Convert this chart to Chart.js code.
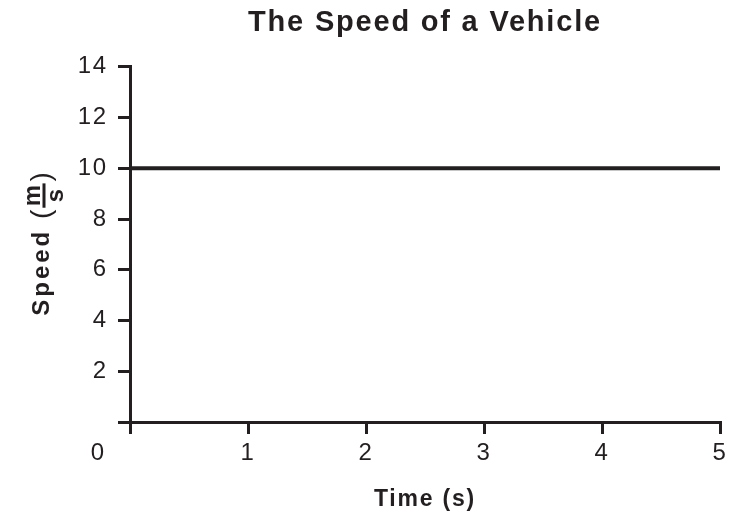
<!DOCTYPE html>
<html>
<head>
<meta charset="utf-8">
<title>The Speed of a Vehicle</title>
<script src="https://cdn.jsdelivr.net/npm/chart.js@4/dist/chart.umd.min.js"></script>
<style>
  html, body { margin: 0; padding: 0; background: #fff; }
  #wrap { width: 740px; height: 516px; }
</style>
</head>
<body>
<div id="wrap"><canvas id="speedChart"></canvas></div>
<script>
// data
const timeSeconds = [0, 1, 2, 3, 4, 5];
const speedValues = [10, 10, 10, 10, 10, 10];
const timeTicks = [0, 1, 2, 3, 4, 5];
const speedTicks = [0, 2, 4, 6, 8, 10, 12, 14];
const originLabel = '0';

const ink = '#231f20';
const family = '"Liberation Sans", Arial, Helvetica, sans-serif';

// stretch the text a little like the printed figure
const spacing = {
    id: 'spacing',
    beforeDraw(chart) { chart.ctx.letterSpacing = '1.8px'; }
};

// y title with the m/s fraction, and the shared "0" at the corner
const axisExtras = {
    id: 'axisExtras',
    afterDraw(chart) {
        const { ctx, chartArea, scales } = chart;
        ctx.save();
        ctx.fillStyle = ink;
        ctx.letterSpacing = '2px';

        // shared origin label
        ctx.font = '24px ' + family;
        ctx.textAlign = 'right';
        ctx.textBaseline = 'alphabetic';
        ctx.fillText(originLabel, chartArea.left - 24, scales.x.bottom - 56);

        const mainFont = 'bold 24px ' + family;
        const parenFont = '28px ' + family;
        const fracFont = 'bold 24px ' + family;

        ctx.letterSpacing = '3px';
        ctx.font = mainFont;
        const wMain = ctx.measureText('Speed ').width;
        ctx.letterSpacing = '0px';
        ctx.font = parenFont;
        const wOpen = ctx.measureText('(').width + 1;
        const wClose = ctx.measureText(')').width;
        ctx.font = fracFont;
        const wFrac = Math.max(ctx.measureText('m').width, ctx.measureText('s').width) + 5;
        const total = wMain + wOpen + wFrac + wClose;

        ctx.translate(49, (chartArea.top + chartArea.bottom) / 2);
        ctx.rotate(-Math.PI / 2);
        let x = -total / 2;
        ctx.textAlign = 'left';
        ctx.letterSpacing = '3px';
        ctx.font = mainFont;
        ctx.fillText('Speed ', x, 0);
        x += wMain;
        ctx.letterSpacing = '0px';
        ctx.font = parenFont;
        ctx.fillText('(', x, 1);
        x += wOpen;

        ctx.font = fracFont;
        ctx.textAlign = 'center';
        ctx.fillText('m', x + wFrac / 2, -9);
        ctx.fillRect(x + 1, -6.5, wFrac - 2, 3);
        ctx.fillText('s', x + wFrac / 2, 14);
        x += wFrac;

        ctx.textAlign = 'left';
        ctx.font = parenFont;
        ctx.fillText(')', x + 1, 1);
        ctx.restore();
    }
};

const data = {
    labels: timeSeconds,
    datasets: [{
        label: 'Speed',
        data: timeSeconds.map((t, i) => ({ x: t, y: speedValues[i] })),
        borderColor: ink,
        borderWidth: 4,
        pointRadius: 0,
        fill: false,
        tension: 0
    }]
};

const config = {
    type: 'line',
    data: data,
    options: {
        responsive: true,
        maintainAspectRatio: false,
        animation: false,
        layout: { padding: { left: 0, right: 20, top: 0, bottom: 0 } },
        scales: {
            x: {
                type: 'linear',
                min: 0,
                max: 5,
                afterBuildTicks: s => { s.ticks = timeTicks.map(v => ({ value: v })); },
                afterFit: s => { s.height = 94; },
                grid: { drawOnChartArea: false, drawTicks: true, tickLength: 12, color: ink, lineWidth: 3 },
                border: { display: true, color: ink, width: 3 },
                ticks: {
                    color: ink,
                    padding: 5,
                    maxRotation: 0,
                    font: { family: family, size: 24 },
                    callback: v => (v === 0 ? '' : v)
                },
                title: {
                    display: true,
                    text: 'Time (s)',
                    color: ink,
                    font: { family: family, size: 23, weight: 'bold' },
                    padding: { top: 0, bottom: 3 }
                }
            },
            y: {
                min: 0,
                max: 14,
                afterBuildTicks: s => { s.ticks = speedTicks.map(v => ({ value: v })); },
                afterFit: s => { s.width = 130; },
                grid: { drawOnChartArea: false, drawTicks: true, tickLength: 12, color: ink, lineWidth: 3 },
                border: { display: true, color: ink, width: 3 },
                ticks: {
                    color: ink,
                    padding: 10,
                    font: { family: family, size: 24 },
                    callback: v => (v === 0 ? '' : v)
                }
            }
        },
        plugins: {
            legend: { display: false },
            tooltip: { enabled: false },
            title: {
                display: true,
                fullSize: false,
                text: 'The Speed of a Vehicle',
                color: ink,
                font: { family: family, size: 29, weight: 'bold' },
                padding: { top: 6, bottom: 26 }
            }
        }
    },
    plugins: [spacing, axisExtras]
};

new Chart(document.getElementById('speedChart'), config);
</script>
</body>
</html>
